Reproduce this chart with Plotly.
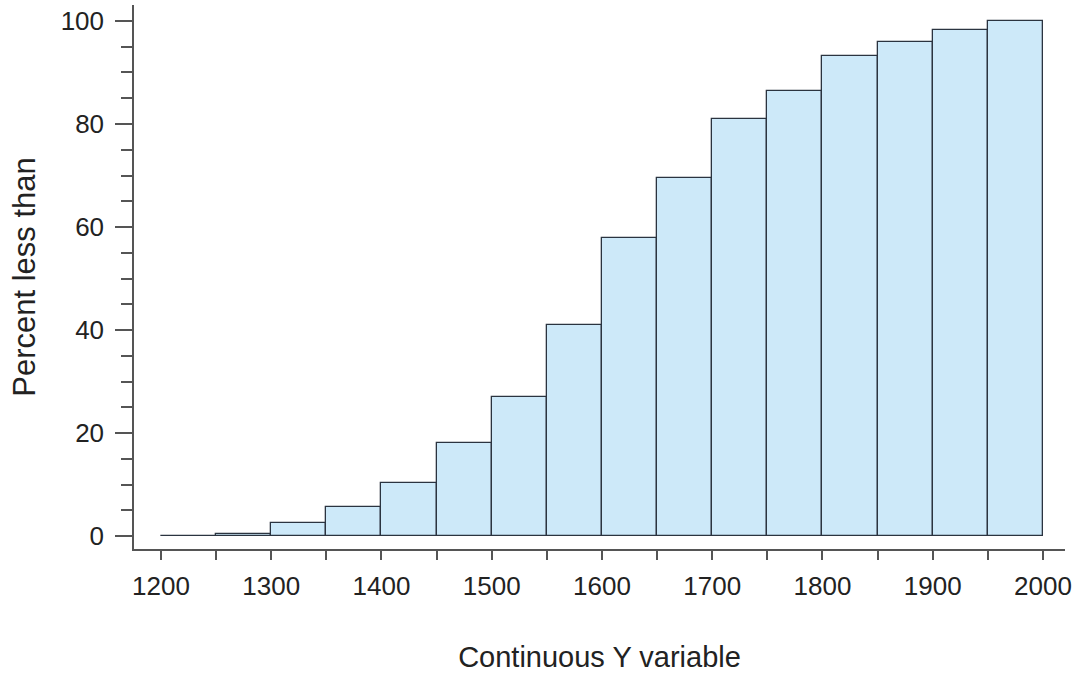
import plotly.graph_objects as go

bin_starts = [1200, 1250, 1300, 1350, 1400, 1450, 1500, 1550, 1600, 1650,
              1700, 1750, 1800, 1850, 1900, 1950]
bin_width = 50
percent_less = [0.1, 0.4, 2.5, 5.6, 10.3, 18.1, 27.0, 41.0, 57.9, 69.5,
                80.9, 86.5, 93.2, 95.9, 98.3, 100.0]
x_ticks = [1200, 1300, 1400, 1500, 1600, 1700, 1800, 1900, 2000]
y_ticks = [0, 20, 40, 60, 80, 100]

centers = [s + bin_width / 2 for s in bin_starts]

fig = go.Figure(go.Bar(
    x=centers, y=percent_less, width=bin_width,
    marker=dict(color="#cde9f9", line=dict(color="#2b3440", width=1.3)),
))

font = "Liberation Sans, Arial, sans-serif"
fig.update_layout(
    width=1077, height=680,
    margin=dict(l=134, r=12, t=5, b=131),
    plot_bgcolor="white", paper_bgcolor="white",
    showlegend=False, bargap=0,
    font=dict(family=font, size=26, color="#222"),
)
fig.update_xaxes(
    range=[1175.5, 2020], tickvals=x_ticks, showgrid=False, zeroline=False,
    showline=True, linecolor="#555", linewidth=1.5,
    ticks="outside", ticklen=9, tickcolor="#555", tickwidth=1.5,
    minor=dict(dtick=50, tick0=1200, ticks="outside", ticklen=9, tickcolor="#555", tickwidth=1.5),
    tickfont=dict(size=26), ticklabelstandoff=4,
    title=dict(text="Continuous Y variable", font=dict(size=29), standoff=47),
    automargin=False,
)
fig.update_yaxes(
    range=[-2.5, 103.1], tickvals=y_ticks, showgrid=False, zeroline=False,
    showline=True, linecolor="#555", linewidth=1.5,
    ticks="outside", ticklen=17, tickcolor="#555", tickwidth=1.5,
    minor=dict(dtick=5, tick0=0, ticks="outside", ticklen=11, tickcolor="#555", tickwidth=1.5),
    tickfont=dict(size=26), ticklabelstandoff=6,
    title=dict(text="Percent less than", font=dict(size=31), standoff=16),
    automargin=False,
)
fig.write_html("out.html")
